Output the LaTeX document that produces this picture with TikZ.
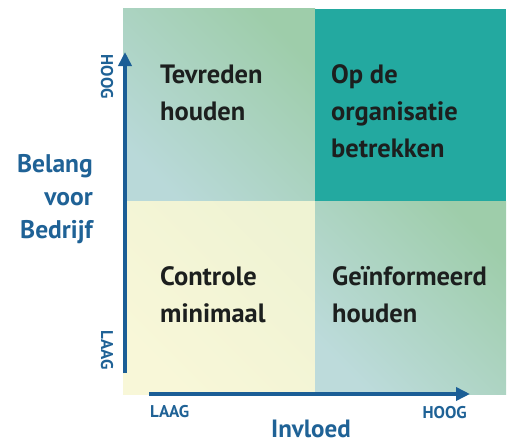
\documentclass[tikz,border=0pt]{standalone}
\usepackage{fontspec}
\setmainfont{PT Sans}
\usetikzlibrary{arrows.meta}
\definecolor{axisblue}{HTML}{1B5E96}
\definecolor{labblue}{HTML}{1F6296}
\definecolor{qtext}{HTML}{1C1F1E}
\definecolor{teal}{HTML}{23A9A0}
\definecolor{greenq}{HTML}{9ECDAA}
\definecolor{blueq}{HTML}{B9D9D9}
\definecolor{yellowq}{HTML}{F8F7D8}
\tikzset{
  qlabel/.style={anchor=base west, inner sep=0pt, text=qtext, font=\fontsize{26.5}{30}\selectfont\bfseries},
  axlabel/.style={anchor=base east, inner sep=0pt, text=labblue, font=\fontsize{25.5}{28}\selectfont\bfseries},
  ticklabel/.style={inner sep=0pt, text=labblue, font=\fontsize{17}{20}\selectfont\bfseries},
  axisarrow/.style={draw=axisblue, line width=3.6pt, -{Triangle[width=13pt,length=14pt]}}
}
\begin{document}
\begin{tikzpicture}[x=1pt,y=-1pt]
\useasboundingbox (0,0) rectangle (508,444);
% quadrants
\shade[top color=greenq, bottom color=blueq, shading angle=-45] (123,9) rectangle (315,201);
\fill[teal] (315,9) rectangle (506,201);
\shade[top color=yellowq!90!greenq, bottom color=yellowq, shading angle=-45] (123,201) rectangle (315,394);
\shade[top color=greenq, bottom color=blueq!95!white, shading angle=-45] (315,201) rectangle (506,394);
% quadrant texts
\node[qlabel] (tl1) at (160,83) {Tevreden};
\node[qlabel] (tl2) at (160,120) {houden};
\node[qlabel] (tr1) at (331,83) {Op de};
\node[qlabel] (tr2) at (331,120) {organisatie};
\node[qlabel] (tr3) at (331,157) {betrekken};
\node[qlabel] (bl1) at (160,285) {Controle};
\node[qlabel] (bl2) at (160,322) {minimaal};
\node[qlabel] (br1) at (332,285) {Geïnformeerd};
\node[qlabel] (br2) at (332,322) {houden};
% axes
\coordinate (vstart) at (125,373);
\coordinate (vend) at (125,52);
\coordinate (hstart) at (149,394);
\coordinate (hend) at (470,394);
\draw[axisarrow] (vstart) -- (vend);
\draw[axisarrow] (hstart) -- (hend);
% axis labels
\node[axlabel] (ylab1) at (93,172) {Belang};
\node[axlabel] (ylab2) at (93,205) {voor};
\node[axlabel] (ylab3) at (93,238) {Bedrijf};
\node[ticklabel, rotate=-90] (yhigh) at (107,77) {HOOG};
\node[ticklabel, rotate=-90] (ylow) at (107,350) {LAAG};
\node[ticklabel, anchor=base west] (xlow) at (150,417) {LAAG};
\node[ticklabel, anchor=base east] (xhigh) at (467,418) {HOOG};
\node[anchor=base west, inner sep=0pt, text=labblue, font=\fontsize{25}{28}\selectfont\bfseries] (xlab) at (271,437) {Invloed};
\end{tikzpicture}
\end{document}
